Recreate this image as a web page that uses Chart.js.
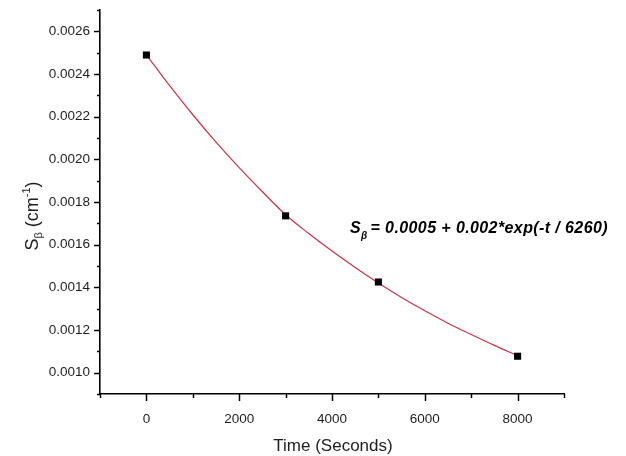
<!DOCTYPE html>
<html>
<head>
<meta charset="utf-8">
<script src="https://cdn.jsdelivr.net/npm/chart.js@4/dist/chart.umd.min.js"></script>
<style>
  html, body { margin: 0; padding: 0; background: #ffffff; }
  #wrap { width: 626px; height: 456px; position: relative; }
</style>
</head>
<body>
<div id="wrap"><canvas id="c" width="626" height="456"></canvas></div>
<script>
// ---- data ----
const sampleTimes = [0, 3000, 5000, 8000];
const sampleValues = [0.002489, 0.001735, 0.001425, 0.001077];

const curveTimes  = [0, 500, 1000, 1500, 2000, 2500, 3000, 3500, 4000, 4500, 5000, 5500, 6000, 6500, 7000, 7500, 8000];
const curveValues = [0.002490, 0.002345, 0.002209, 0.002081, 0.001961, 0.001848, 0.001740, 0.001652, 0.001570, 0.001493, 0.001420, 0.001352, 0.001290, 0.001232, 0.001179, 0.001128, 0.001080];

const xMajorTicks = [0, 2000, 4000, 6000, 8000];
const xMinorTicks = [-1000, 1000, 3000, 5000, 7000, 9000];
const yMajorTicks = [0.0010, 0.0012, 0.0014, 0.0016, 0.0018, 0.0020, 0.0022, 0.0024, 0.0026];
const yMinorTicks = [0.0009, 0.0011, 0.0013, 0.0015, 0.0017, 0.0019, 0.0021, 0.0023, 0.0025, 0.0027];

const xTitle = 'Time (Seconds)';
const yTitleParts = { main: 'S', sub: '\u03B2', rest: ' (cm', sup: '-1', end: ')' };
const fitText = { main: 'S', sub: '\u03B2', rest: ' = 0.0005 + 0.002*exp(-t / 6260)' };

const FONT = "'Liberation Sans', Arial, Helvetica, sans-serif";
const TEXT_COLOR = '#1e1e1e';

const decorPlugin = {
  id: 'decor',
  afterDraw(chart) {
    const ctx = chart.ctx;
    const xs = chart.scales.x, ys = chart.scales.y;
    const area = chart.chartArea;
    ctx.save();
    ctx.strokeStyle = '#000';
    ctx.lineWidth = 1.5;
    const drawX = (v, len) => {
      const px = Math.round(xs.getPixelForValue(v)) + 0.5;
      ctx.beginPath(); ctx.moveTo(px, area.bottom); ctx.lineTo(px, area.bottom + len); ctx.stroke();
    };
    xMajorTicks.forEach(v => drawX(v, 7));
    xMinorTicks.forEach(v => drawX(v, 4));
    const drawY = (v, len) => {
      const py = Math.round(ys.getPixelForValue(v)) + 0.5;
      ctx.beginPath(); ctx.moveTo(area.left, py); ctx.lineTo(area.left - len, py); ctx.stroke();
    };
    yMajorTicks.forEach(v => drawY(v, 6));
    yMinorTicks.forEach(v => drawY(v, 3));

    // x title
    ctx.fillStyle = TEXT_COLOR;
    ctx.font = '17px ' + FONT;
    ctx.textAlign = 'center';
    ctx.textBaseline = 'alphabetic';
    ctx.fillText(xTitle, (area.left + area.right) / 2 + 1, 451);

    // y title (rotated, with subscript and superscript)
    const big = '18px ' + FONT, small = '11px ' + FONT;
    ctx.font = big; const wS = ctx.measureText(yTitleParts.main).width;
    const wRest = ctx.measureText(yTitleParts.rest).width;
    const wEnd = ctx.measureText(yTitleParts.end).width;
    ctx.font = small; const wSub = ctx.measureText(yTitleParts.sub).width;
    const wSup = ctx.measureText(yTitleParts.sup).width;
    const total = wS + wSub + wRest + wSup + wEnd;
    ctx.translate(38, 216);
    ctx.rotate(-Math.PI / 2);
    ctx.textAlign = 'left';
    let cx = -total / 2;
    ctx.font = big; ctx.fillText(yTitleParts.main, cx, 0); cx += wS;
    ctx.font = small; ctx.fillText(yTitleParts.sub, cx, 4); cx += wSub;
    ctx.font = big; ctx.fillText(yTitleParts.rest, cx, 0); cx += wRest;
    ctx.font = small; ctx.fillText(yTitleParts.sup, cx, -8); cx += wSup;
    ctx.font = big; ctx.fillText(yTitleParts.end, cx, 0);
    ctx.restore();

    // fit equation annotation
    ctx.save();
    ctx.fillStyle = '#000';
    ctx.textAlign = 'left';
    ctx.textBaseline = 'alphabetic';
    try { ctx.letterSpacing = '0.4px'; } catch (e) {}
    let ax = 350; const ay = 233;
    ctx.font = 'italic bold 16px ' + FONT;
    ctx.fillText(fitText.main, ax, ay); ax += ctx.measureText(fitText.main).width;
    ctx.font = 'italic bold 10px ' + FONT;
    ctx.fillText(fitText.sub, ax, ay + 6); ax += ctx.measureText(fitText.sub).width;
    ctx.font = 'italic bold 16px ' + FONT;
    ctx.fillText(fitText.rest, ax - 2, ay);
    ctx.restore();
  }
};

new Chart(document.getElementById('c'), {
  type: 'scatter',
  data: {
    datasets: [
      {
        label: 'data',
        data: sampleTimes.map((t, i) => ({ x: t, y: sampleValues[i] })),
        showLine: false,
        pointStyle: 'rect',
        pointRadius: 5,
        pointHoverRadius: 5,
        pointBackgroundColor: '#000',
        pointBorderColor: '#000',
        pointBorderWidth: 0
      },
      {
        label: 'fit',
        data: curveTimes.map((t, i) => ({ x: t, y: curveValues[i] })),
        showLine: true,
        borderColor: '#cc3344',
        borderWidth: 1.2,
        pointRadius: 0,
        pointHoverRadius: 0,
        cubicInterpolationMode: 'monotone',
        fill: false
      }
    ]
  },
  options: {
    responsive: false,
    animation: false,
    events: [],
    layout: { padding: { left: 0, top: 10, right: 62, bottom: 0 } },
    plugins: { legend: { display: false }, tooltip: { enabled: false }, title: { display: false } },
    scales: {
      x: {
        type: 'linear',
        min: -1000, max: 9000,
        afterFit(s) { s.height = 62; s.paddingLeft = 0; s.paddingRight = 0; },
        afterBuildTicks(s) { s.ticks = xMajorTicks.map(v => ({ value: v })); },
        ticks: {
          font: { family: FONT, size: 13.5 },
          color: TEXT_COLOR,
          padding: 17,
          maxRotation: 0,
          autoSkip: false,
          callback: v => String(v)
        },
        grid: { display: false, drawTicks: false },
        border: { display: true, color: '#000', width: 1.6 }
      },
      y: {
        type: 'linear',
        min: 0.0009, max: 0.0027,
        afterFit(s) { s.width = 100; s.paddingTop = 0; s.paddingBottom = 0; },
        afterBuildTicks(s) { s.ticks = yMajorTicks.map(v => ({ value: v })); },
        ticks: {
          font: { family: FONT, size: 13.5 },
          color: TEXT_COLOR,
          padding: 10,
          autoSkip: false,
          callback: v => Number(v).toFixed(4)
        },
        grid: { display: false, drawTicks: false },
        border: { display: true, color: '#000', width: 1.6 }
      }
    }
  },
  plugins: [decorPlugin]
});
</script>
</body>
</html>
